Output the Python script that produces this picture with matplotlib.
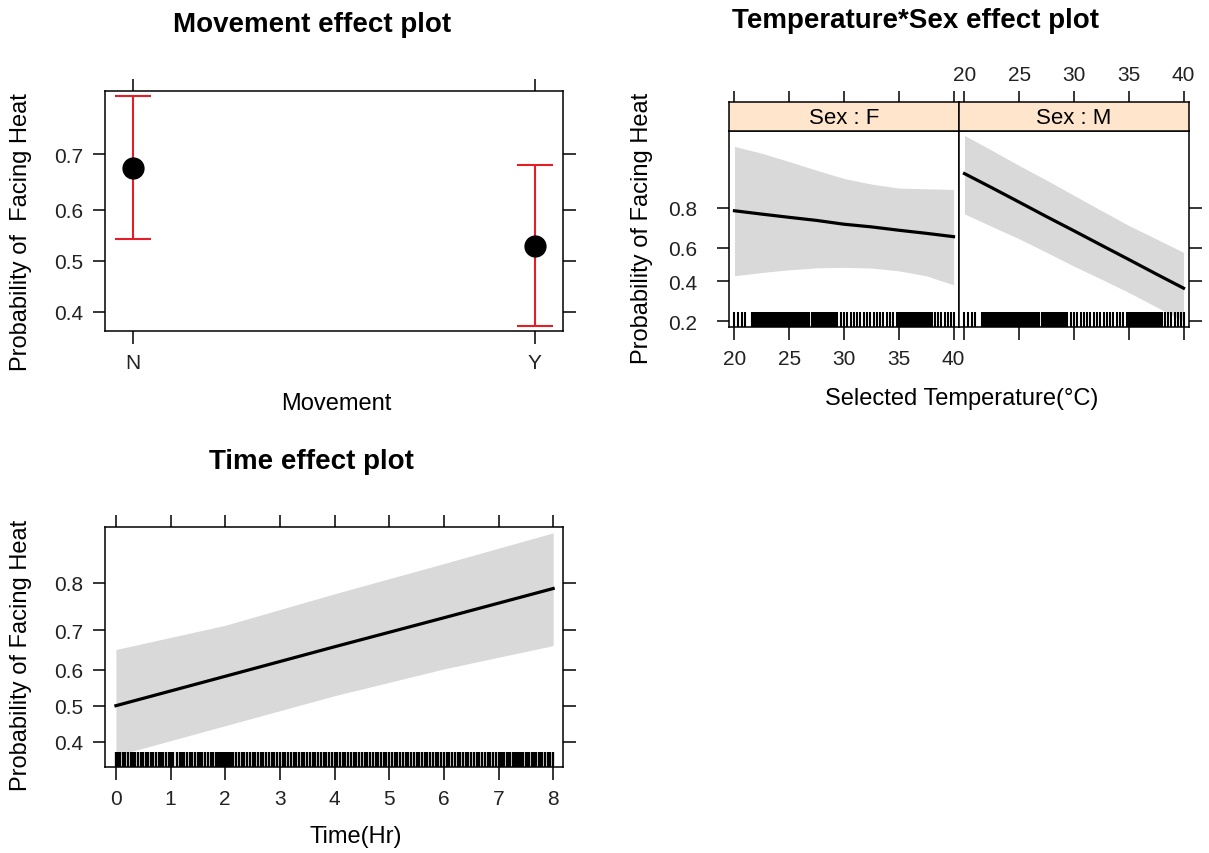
# -*- coding: utf-8 -*-

import numpy as np
import matplotlib.pyplot as plt
from matplotlib.ticker import FixedLocator, FixedFormatter, NullLocator

plt.rcParams['font.family'] = ['Liberation Sans', 'DejaVu Sans']

# Movement effect
movement = ['N', 'Y']
move_fit = [0.676, 0.530]
move_lo = [0.544, 0.373]
move_hi = [0.787, 0.682]

# Temperature*Sex effect
temp = [20, 22.5, 25, 27.5, 30, 32.5, 35, 37.5, 40]
fit_f = [0.788, 0.774, 0.760, 0.746, 0.728, 0.715, 0.698, 0.682, 0.664]
lo_f = [0.432, 0.452, 0.468, 0.480, 0.483, 0.479, 0.462, 0.432, 0.379]
hi_f = [0.947, 0.938, 0.925, 0.909, 0.891, 0.877, 0.866, 0.864, 0.862]
fit_m = [0.902, 0.867, 0.821, 0.763, 0.695, 0.616, 0.531, 0.443, 0.360]
lo_m = [0.775, 0.717, 0.652, 0.574, 0.490, 0.412, 0.336, 0.263, 0.201]
hi_m = [0.959, 0.942, 0.918, 0.887, 0.844, 0.789, 0.722, 0.652, 0.574]
temp_ticks = [20, 25, 30, 35, 40]

temp_rug = [20.0, 20.3, 20.7, 21.0,
            21.6, 21.7, 21.8, 21.9, 22.0, 22.1, 22.2, 22.3, 22.4, 22.5,
            22.6, 22.8, 22.9, 23.0, 23.1, 23.2, 23.3, 23.5, 23.6, 23.7,
            23.8, 23.9, 24.1, 24.2, 24.3, 24.4, 24.5, 24.6, 24.7, 24.8,
            24.9, 25.0, 25.1, 25.2, 25.3, 25.4, 25.5, 25.6, 25.7, 25.8,
            25.9, 26.0, 26.1, 26.2, 26.3, 26.4, 26.5, 26.6, 26.7, 26.8,
            27.1, 27.2, 27.3, 27.4, 27.5, 27.6, 27.7, 27.8, 27.9, 28.0,
            28.1, 28.2, 28.4, 28.5, 28.7, 28.8, 29.0, 29.1, 29.3, 29.4,
            29.7, 30.0, 30.3, 30.6, 30.9, 31.2, 31.5, 31.8, 32.1, 32.4,
            32.7, 33.0, 33.3, 33.6, 33.9, 34.2, 34.5, 34.8, 35.0, 35.1,
            35.2, 35.3, 35.4, 35.5, 35.6, 35.7, 35.8, 35.9, 36.0, 36.1,
            36.2, 36.3, 36.4, 36.5, 36.6, 36.7, 36.8, 36.9, 37.0, 37.1,
            37.2, 37.3, 37.4, 37.5, 37.6, 37.7, 37.8, 37.9, 38.0, 38.3,
            38.6, 38.9, 39.2, 39.5, 39.8, 40.0]

# Time effect
hours = [0, 2, 4, 6, 8]
fit_t = [0.500, 0.582, 0.660, 0.729, 0.789]
lo_t = [0.363, 0.444, 0.528, 0.602, 0.663]
hi_t = [0.653, 0.712, 0.779, 0.832, 0.875]

rug_minutes = [0, 2, 5, 8, 10, 13, 16, 19, 21, 24, 27, 30, 33, 35, 38, 41,
               44, 47, 50, 52, 55, 58, 60, 63, 67, 70, 72, 75, 78, 81, 84,
               87, 90, 92, 95, 98, 101, 104, 107, 110, 112, 114, 116, 118,
               120, 122, 124, 126, 129, 132, 135, 138, 141, 144, 147, 150,
               153, 156, 159, 162, 165, 168, 171, 174, 177, 180, 183, 186,
               189, 192, 195, 198, 201, 204, 207, 210, 213, 216, 219, 222,
               225, 228, 231, 234, 237, 240, 243, 246, 249, 252, 255, 258,
               261, 264, 267, 270, 273, 276, 279, 282, 285, 288, 291, 294,
               297, 300, 303, 306, 309, 312, 315, 318, 321, 324, 327, 330,
               333, 336, 339, 342, 345, 348, 351, 354, 357, 360, 363, 366,
               369, 372, 375, 378, 381, 384, 387, 390, 393, 396, 399, 402,
               405, 408, 411, 414, 417, 420, 422, 424, 426, 429, 431, 433,
               436, 438, 440, 443, 445, 447, 450, 452, 454, 457, 459, 461,
               464, 466, 468, 471, 474, 477, 480]

W, H = 1209, 854
RED = '#e41e26'
BAND = '#d9d9d9'
STRIP = '#ffe5cc'


def rect(l, t, r, b):
    return [l / W, 1 - b / H, (r - l) / W, (b - t) / H]


def ftext(x, y, s, **kw):
    fig.text(x / W, 1 - y / H, s, ha='center', va='center', **kw)


def logit_axis(ax, lo, hi, ticks):
    ax.set_yscale('logit')
    ax.set_ylim(lo, hi)
    ax.yaxis.set_major_locator(FixedLocator(ticks))
    ax.yaxis.set_major_formatter(FixedFormatter(['%.1f' % t for t in ticks]))
    ax.yaxis.set_minor_locator(NullLocator())


def frame(ax):
    for s in ax.spines.values():
        s.set_linewidth(1.1)
    ax.tick_params(direction='out', length=9, width=1.1, labelsize=15,
                   pad=4, labelcolor='#222222')


def rug(ax, vals, h, lw):
    ax.vlines(vals, 0, h, transform=ax.get_xaxis_transform(),
              color='black', lw=lw, zorder=4)


fig = plt.figure(figsize=(W / 100, H / 100), dpi=100)

# ---- Movement panel
ax1 = fig.add_axes(rect(105, 92, 563, 332))
x = np.arange(1, len(movement) + 1)
err = [np.array(move_fit) - np.array(move_lo),
       np.array(move_hi) - np.array(move_fit)]
logit_axis(ax1, 0.364, 0.794, [0.4, 0.5, 0.6, 0.7])
ax1.errorbar(x, move_fit, yerr=err, fmt='none', ecolor=RED, elinewidth=1.5,
             capsize=13, capthick=1.5)
ax1.plot(x, move_fit, 'o', color='black', ms=15)
ax1.set_xlim(0.93, 2.07)
ax1.set_xticks(x)
ax1.set_xticklabels(movement)
frame(ax1)
ax1.tick_params(top=True, right=True)
ax1.tick_params(axis='x', pad=7)
ax1.tick_params(axis='y', pad=7)
ftext(312, 25, 'Movement effect plot', fontsize=20, fontweight='bold')
ftext(21, 232, 'Probability of  Facing Heat', fontsize=17, rotation=90)
ftext(336, 404, 'Movement', fontsize=17)

# ---- Temperature*Sex panels
ax_f = fig.add_axes(rect(729, 132, 959, 328))
ax_m = fig.add_axes(rect(959, 132, 1189, 328))
st_f = fig.add_axes(rect(729, 103, 959, 132))
st_m = fig.add_axes(rect(959, 103, 1189, 132))
for ax, fit, lo, hi in [(ax_f, fit_f, lo_f, hi_f), (ax_m, fit_m, lo_m, hi_m)]:
    logit_axis(ax, 0.179, 0.963, [0.2, 0.4, 0.6, 0.8])
    ax.fill_between(temp, lo, hi, color=BAND, lw=0)
    ax.plot(temp, fit, color='black', lw=2.3)
    rug(ax, temp_rug, 0.077, 1.5)
    ax.set_xlim(19.5, 40.5)
    ax.set_xticks(temp_ticks)
    frame(ax)
ax_f.tick_params(axis='x', pad=7)
ax_f.tick_params(axis='y', pad=14)
ax_m.tick_params(axis='y', left=False, right=True, labelleft=False)
ax_m.tick_params(axis='x', labelbottom=False)
for st, lab in [(st_f, 'Sex : F'), (st_m, 'Sex : M')]:
    st.set_facecolor(STRIP)
    st.set_xlim(19.5, 40.5)
    st.set_xticks(temp_ticks)
    st.set_yticks([])
    frame(st)
    st.tick_params(axis='x', top=True, bottom=False, labelbottom=False,
                   labeltop=False, length=8)
    st.text(0.5, 0.45, lab, transform=st.transAxes, ha='center',
            va='center', fontsize=16)
st_m.tick_params(axis='x', labeltop=True, pad=5)
ftext(916, 21, 'Temperature*Sex effect plot', fontsize=20, fontweight='bold')
ftext(642, 228, 'Probability of Facing Heat', fontsize=17, rotation=90)
ftext(962, 399, 'Selected Temperature(°C)', fontsize=17)

# ---- Time panel
ax3 = fig.add_axes(rect(105, 528, 563, 768))
logit_axis(ax3, 0.334, 0.882, [0.4, 0.5, 0.6, 0.7, 0.8])
ax3.fill_between(hours, lo_t, hi_t, color=BAND, lw=0)
ax3.plot(hours, fit_t, color='black', lw=2.3)
rug(ax3, np.array(rug_minutes) / 60.0, 0.0625, 1.65)
ax3.set_xlim(-0.2, 8.18)
ax3.set_xticks(range(0, 9))
frame(ax3)
ax3.tick_params(top=True, right=True)
ax3.tick_params(axis='x', pad=7)
ax3.tick_params(axis='y', pad=7)
ftext(311, 462, 'Time effect plot', fontsize=20, fontweight='bold')
ftext(21, 655, 'Probability of Facing Heat', fontsize=17, rotation=90)
ftext(356, 837, 'Time(Hr)', fontsize=17)

fig.savefig('out.png', dpi=100)
